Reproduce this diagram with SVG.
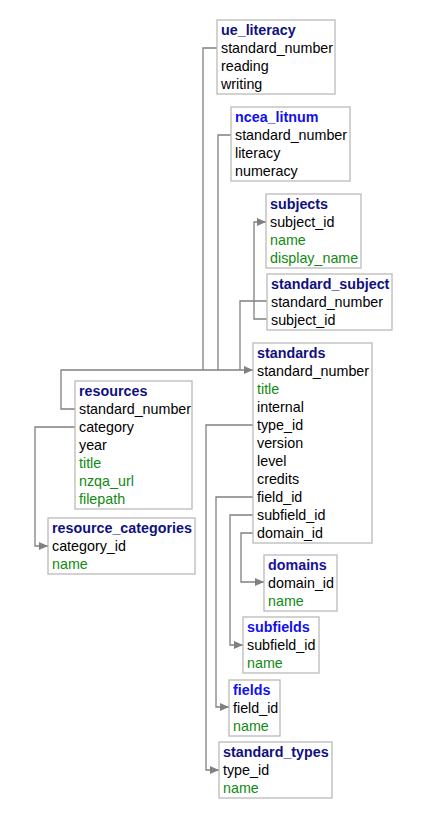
<svg xmlns="http://www.w3.org/2000/svg" width="441" height="821" viewBox="0 0 441 821">
<style>
.box{fill:#fff;stroke:#bbbbbb;stroke-width:1.3}
text{font-family:"Liberation Sans",Arial,sans-serif;font-size:14.3px;fill:#000}
.t{font-weight:bold;fill:#10107f}
.tb{font-weight:bold;fill:#1010ee}
.td{font-weight:bold;fill:#18129a}
.g{fill:#108a10}
.c{fill:none;stroke:#808080;stroke-width:1.3}
</style>
<defs>
<marker id="a" markerWidth="10" markerHeight="8" refX="9" refY="4" orient="auto" markerUnits="userSpaceOnUse">
<path d="M0,0 L9,4 L0,8 Z" fill="#808080"/>
</marker>
</defs>
<rect width="441" height="821" fill="#fff"/>
<g id="connectors">
<path class="c" d="M217,48 H203 V370"/>
<path class="c" d="M231,135 H218 V370"/>
<path class="c" d="M267,301 H240 V370"/>
<path class="c" d="M75,409 H61 V370 H253" marker-end="url(#a)"/>
<path class="c" d="M267,319 H254 V222 H266" marker-end="url(#a)"/>
<path class="c" d="M75,427 H35 V546 H48" marker-end="url(#a)"/>
<path class="c" d="M253,425 H206 V770 H219" marker-end="url(#a)"/>
<path class="c" d="M253,497 H216 V707 H229" marker-end="url(#a)"/>
<path class="c" d="M253,515 H230 V645 H243" marker-end="url(#a)"/>
<path class="c" d="M253,533 H241 V582 H264" marker-end="url(#a)"/>
</g>
<g id="ue_literacy">
<rect class="box" x="217" y="20" width="118" height="74"/>
<text class="t" x="221" y="35">ue_literacy</text>
<text x="221" y="53">standard_number</text>
<text x="221" y="71">reading</text>
<text x="221" y="89">writing</text>
</g>
<g id="ncea_litnum">
<rect class="box" x="231" y="107" width="119" height="74"/>
<text class="tb" x="235" y="122">ncea_litnum</text>
<text x="235" y="140">standard_number</text>
<text x="235" y="158">literacy</text>
<text x="235" y="176">numeracy</text>
</g>
<g id="subjects">
<rect class="box" x="266" y="194" width="95" height="74"/>
<text class="t" x="270" y="209">subjects</text>
<text x="270" y="227">subject_id</text>
<text class="g" x="270" y="245">name</text>
<text class="g" x="270" y="263">display_name</text>
</g>
<g id="standard_subject">
<rect class="box" x="267" y="274" width="125" height="56"/>
<text class="t" x="271" y="289">standard_subject</text>
<text x="271" y="307">standard_number</text>
<text x="271" y="325">subject_id</text>
</g>
<g id="standards">
<rect class="box" x="253" y="343" width="119" height="200"/>
<text class="t" x="257" y="358">standards</text>
<text x="257" y="376">standard_number</text>
<text class="g" x="257" y="394">title</text>
<text x="257" y="412">internal</text>
<text x="257" y="430">type_id</text>
<text x="257" y="448">version</text>
<text x="257" y="466">level</text>
<text x="257" y="484">credits</text>
<text x="257" y="502">field_id</text>
<text x="257" y="520">subfield_id</text>
<text x="257" y="538">domain_id</text>
</g>
<g id="resources">
<rect class="box" x="75" y="381" width="117" height="128"/>
<text class="t" x="79" y="396">resources</text>
<text x="79" y="414">standard_number</text>
<text x="79" y="432">category</text>
<text x="79" y="450">year</text>
<text class="g" x="79" y="468">title</text>
<text class="g" x="79" y="486">nzqa_url</text>
<text class="g" x="79" y="504">filepath</text>
</g>
<g id="resource_categories">
<rect class="box" x="48" y="518" width="147" height="56"/>
<text class="t" x="52" y="533">resource_categories</text>
<text x="52" y="551">category_id</text>
<text class="g" x="52" y="569">name</text>
</g>
<g id="domains">
<rect class="box" x="264" y="555" width="73" height="56"/>
<text class="td" x="268" y="570">domains</text>
<text x="268" y="588">domain_id</text>
<text class="g" x="268" y="606">name</text>
</g>
<g id="subfields">
<rect class="box" x="243" y="617" width="76" height="56"/>
<text class="tb" x="247" y="632">subfields</text>
<text x="247" y="650">subfield_id</text>
<text class="g" x="247" y="668">name</text>
</g>
<g id="fields">
<rect class="box" x="229" y="680" width="51" height="56"/>
<text class="tb" x="233" y="695">fields</text>
<text x="233" y="713">field_id</text>
<text class="g" x="233" y="731">name</text>
</g>
<g id="standard_types">
<rect class="box" x="219" y="742" width="113" height="56"/>
<text class="t" x="223" y="757">standard_types</text>
<text x="223" y="775">type_id</text>
<text class="g" x="223" y="793">name</text>
</g>
</svg>
